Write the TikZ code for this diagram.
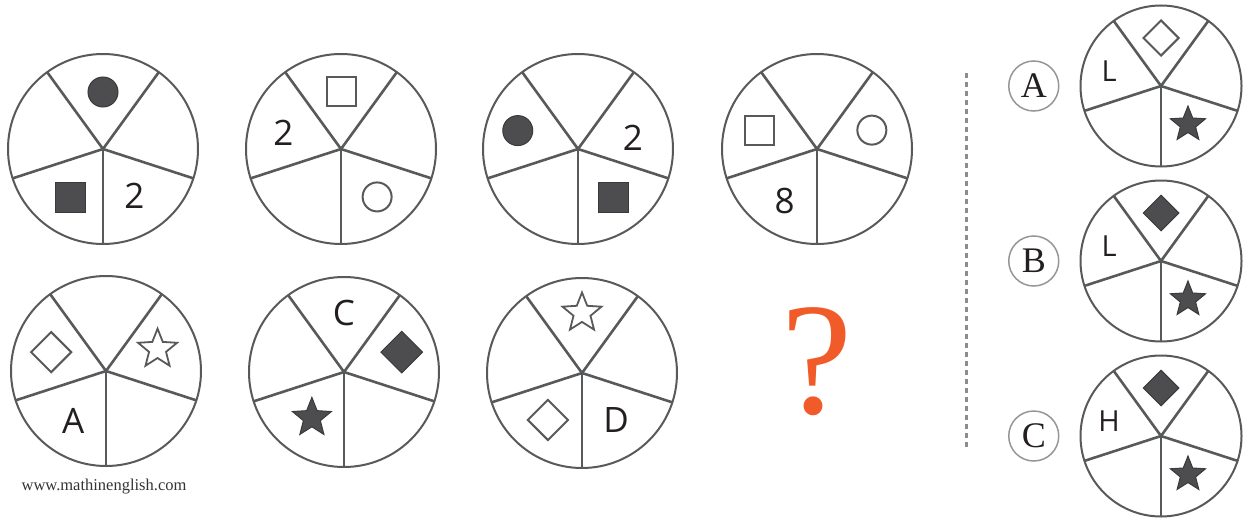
\documentclass[tikz,border=0pt]{standalone}
\usepackage{fontspec}
\setmainfont{Liberation Serif}
\newfontfamily\labelfont{Open Sans}
\usepackage{tikz}
\usetikzlibrary{positioning,calc,shapes.geometric}
\definecolor{lineclr}{RGB}{88,89,91}
\definecolor{shapefill}{RGB}{77,77,79}
\definecolor{shapeedge}{RGB}{58,58,60}
\definecolor{textclr}{RGB}{35,31,32}
\definecolor{askclr}{RGB}{241,90,41}
\definecolor{tagclr}{RGB}{150,150,150}
\definecolor{dashclr}{RGB}{140,140,140}
\tikzset{
  wheel/.style={circle,draw=lineclr,line width=2pt,minimum size=190pt,
                inner sep=0pt,outer sep=0pt},
  optwheel/.style={wheel,minimum size=161pt},
  spoke/.style={draw=lineclr,line width=2.6pt},
  darkdot/.style={circle,draw=shapeedge,fill=shapefill,line width=1pt,
                  minimum size=30pt,inner sep=0pt},
  opendot/.style={circle,draw=lineclr,line width=2pt,minimum size=29pt,inner sep=0pt},
  darksq/.style={rectangle,draw=shapeedge,fill=shapefill,line width=1pt,
                 minimum size=30pt,inner sep=0pt},
  opensq/.style={rectangle,draw=lineclr,line width=2pt,minimum size=29pt,inner sep=0pt},
  darkdia/.style={diamond,draw=shapeedge,fill=shapefill,line width=1pt,
                  minimum size=42pt,inner sep=0pt},
  opendia/.style={diamond,draw=lineclr,line width=2pt,minimum size=41pt,inner sep=0pt},
  darkstar/.style={star,star points=5,star point ratio=2.3,draw=shapeedge,
                   fill=shapefill,line width=1pt,minimum size=41pt,inner sep=0pt},
  openstar/.style={star,star points=5,star point ratio=2.3,draw=lineclr,
                   line width=1.8pt,minimum size=41pt,inner sep=0pt},
  glyph/.style={text=textclr,inner sep=0pt,font=\labelfont\fontsize{35}{35}\selectfont},
  lil/.style={minimum size=36pt},
  lilstar/.style={minimum size=37pt},
  lilglyph/.style={glyph,font=\labelfont\fontsize{29}{29}\selectfont},
  opttag/.style={circle,draw=tagclr,line width=1.5pt,minimum size=50pt,inner sep=0pt,
                 text=textclr,font=\fontsize{36}{36}\selectfont},
  dashline/.style={draw=dashclr,line width=3pt,dash pattern=on 5pt off 4pt},
}
\begin{document}
\begin{tikzpicture}[x=1pt,y=1pt]
\useasboundingbox (0,0) rectangle (1247,-519);
% puzzle wheels
\node[wheel] (q1) at (103,-149) {};
\node[wheel] (q2) at (341,-149) {};
\node[wheel] (q3) at (578,-149) {};
\node[wheel] (q4) at (817,-149) {};
\node[wheel] (q5) at (106,-371) {};
\node[wheel] (q6) at (344,-372) {};
\node[wheel] (q7) at (582,-373) {};
% answer wheels
\node[optwheel] (oA) at (1161,-86) {};
\node[optwheel] (oB) at (1161,-261) {};
\node[optwheel] (oC) at (1161,-436) {};
\foreach \w in {q1,q2,q3,q4,q5,q6,q7,oA,oB,oC}
  \foreach \a in {54,126,198,270,342}
    \draw[spoke] (\w.center) -- (\w.\a);

% row 1
\node[darkdot] (q1t) at ($(q1)+(90:57)$) {};
\node[darksq] (q1ll) at ($(q1)+(236:58)$) {};
\node[glyph] (q1lr) at ($(q1)+(304:56)$) {2};
\node[opensq] (q2t) at ($(q2)+(90:58)$) {};
\node[glyph] (q2ul) at ($(q2)+(164:60)$) {2};
\node[opendot] (q2lr) at ($(q2)+(307:60)$) {};
\node[darkdot] (q3ul) at ($(q3)+(163:63)$) {};
\node[glyph] (q3ur) at ($(q3)+(11:56)$) {2};
\node[darksq] (q3lr) at ($(q3)+(306:60)$) {};
\node[opensq] (q4ul) at ($(q4)+(162:60)$) {};
\node[opendot] (q4ur) at ($(q4)+(19:58)$) {};
\node[glyph] (q4ll) at ($(q4)+(238:61)$) {8};
% row 2
\node[opendia] (q5ul) at ($(q5)+(161:58)$) {};
\node[openstar] (q5ur) at ($(q5)+(23:56)$) {};
\node[glyph] (q5ll) at ($(q5)+(237:60)$) {A};
\node[glyph] (q6t) at ($(q6)+(90:59)$) {C};
\node[darkdia] (q6ur) at ($(q6)+(19:61)$) {};
\node[darkstar] (q6ll) at ($(q6)+(235:56)$) {};
\node[openstar] (q7t) at ($(q7)+(90:60)$) {};
\node[opendia] (q7ll) at ($(q7)+(234:58)$) {};
\node[glyph] (q7lr) at ($(q7)+(306:58)$) {D};
\node[text=askclr,inner sep=0pt,font=\fontsize{160}{160}\selectfont] (ask) at (817,-362) {?};

% answers
\node[opendia,lil] (oAt) at ($(oA)+(90:48)$) {};
\node[lilglyph] (oAul) at ($(oA)+(164:54)$) {L};
\node[darkstar,lilstar] (oAlr) at ($(oA)+(305:47)$) {};
\node[darkdia,lil] (oBt) at ($(oB)+(90:48)$) {};
\node[lilglyph] (oBul) at ($(oB)+(164:54)$) {L};
\node[darkstar,lilstar] (oBlr) at ($(oB)+(305:47)$) {};
\node[darkdia,lil] (oCt) at ($(oC)+(90:48)$) {};
\node[lilglyph] (oCul) at ($(oC)+(164:54)$) {H};
\node[darkstar,lilstar] (oClr) at ($(oC)+(305:47)$) {};
\node[opttag,left=21pt of oA] (tA) {A};
\node[opttag,left=21pt of oB] (tB) {B};
\node[opttag,left=21pt of oC] (tC) {C};

% divider
\coordinate (dtop) at (966,-73);
\coordinate (dbot) at (966,-450);
\draw[dashline] (dtop) -- (dbot);

\node[anchor=base,text=black!80,inner sep=0pt,font=\fontsize{16.5}{16.5}\selectfont]
  (site) at (104,-490) {www.mathinenglish.com};
\end{tikzpicture}
\end{document}
